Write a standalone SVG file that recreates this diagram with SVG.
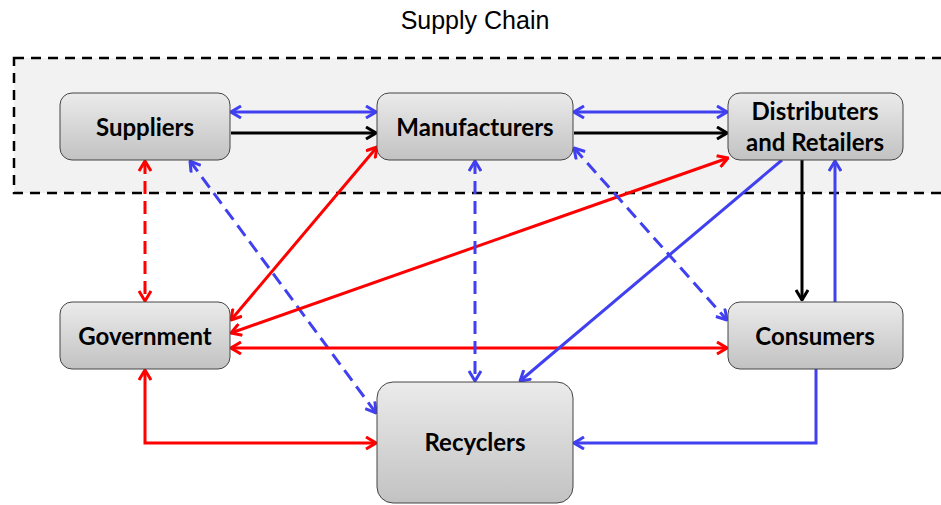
<svg xmlns="http://www.w3.org/2000/svg" width="941" height="505" viewBox="0 0 941 505">
<defs>
<linearGradient id="g" x1="0" y1="0" x2="0" y2="1">
<stop offset="0" stop-color="#ebebeb"/>
<stop offset="1" stop-color="#c2c2c2"/>
</linearGradient>
<marker id="mb" viewBox="0 0 12 14" refX="11" refY="7" markerWidth="12" markerHeight="14" markerUnits="userSpaceOnUse" orient="auto-start-reverse"><path d="M1,1 L11,7 L1,13" fill="none" stroke="#4040f0" stroke-width="3"/></marker>
<marker id="mr" viewBox="0 0 12 14" refX="11" refY="7" markerWidth="12" markerHeight="14" markerUnits="userSpaceOnUse" orient="auto-start-reverse"><path d="M1,1 L11,7 L1,13" fill="none" stroke="#ff0000" stroke-width="3"/></marker>
<marker id="mk" viewBox="0 0 12 14" refX="11" refY="7" markerWidth="12" markerHeight="14" markerUnits="userSpaceOnUse" orient="auto-start-reverse"><path d="M1,1 L11,7 L1,13" fill="none" stroke="#000" stroke-width="3"/></marker>
</defs>
<style>
.box{fill:url(#g);stroke:#444;stroke-width:1}
.lbl{font-family:Lato,"Open Sans","Liberation Sans",sans-serif;font-weight:bold;font-size:24px;fill:#000;text-anchor:middle}
.b{stroke:#4040f0;stroke-width:3;fill:none}
.r{stroke:#ff0000;stroke-width:3;fill:none}
.k{stroke:#000;stroke-width:3;fill:none}
.d{stroke-dasharray:13 7}
.bb{marker-start:url(#mb);marker-end:url(#mb)}
.be{marker-end:url(#mb)}
.rr{marker-start:url(#mr);marker-end:url(#mr)}
.ke{marker-end:url(#mk)}
</style>
<rect width="941" height="505" fill="#fff"/>
<text x="475" y="29" font-family="'Liberation Sans',Arial,sans-serif" font-size="25" text-anchor="middle" fill="#000">Supply Chain</text>
<rect x="14" y="58" width="940" height="135" fill="#f2f2f2" stroke="#000" stroke-width="2.5" stroke-dasharray="10 7"/>
<g id="connectors">
<line class="b bb" x1="231" y1="112" x2="376" y2="112"/>
<line class="k ke" x1="231" y1="133" x2="376" y2="133"/>
<line class="b bb" x1="574" y1="112" x2="727" y2="112"/>
<line class="k ke" x1="574" y1="133" x2="727" y2="133"/>
<line class="r d rr" x1="145" y1="161" x2="145" y2="301"/>
<line class="b d bb" x1="190" y1="161" x2="376" y2="413"/>
<line class="r rr" x1="377" y1="147" x2="231" y2="320"/>
<line class="r rr" x1="728" y1="158" x2="231" y2="333"/>
<line class="r rr" x1="231" y1="348" x2="727" y2="348"/>
<polyline class="r rr" points="145,370 145,443 376,443"/>
<line class="b d bb" x1="475" y1="161" x2="475" y2="381"/>
<line class="b d bb" x1="574" y1="148" x2="727" y2="320"/>
<line class="b be" x1="782" y1="160" x2="520" y2="381"/>
<line class="k ke" x1="802" y1="160" x2="802" y2="300"/>
<line class="b be" x1="835" y1="302" x2="835" y2="161"/>
<polyline class="b be" points="816,369 816,443 574,443"/>
</g>
<g id="suppliers"><rect class="box" x="60" y="93" width="170" height="67" rx="12"/><text class="lbl" x="145" y="135.5">Suppliers</text></g>
<g id="manufacturers"><rect class="box" x="377" y="93" width="196" height="67" rx="12"/><text class="lbl" x="475" y="135.5">Manufacturers</text></g>
<g id="distributers"><rect class="box" x="728" y="93" width="175" height="67" rx="12"/><text class="lbl" x="815" y="120">Distributers</text><text class="lbl" x="815" y="151">and Retailers</text></g>
<g id="government"><rect class="box" x="60" y="302" width="170" height="67" rx="12"/><text class="lbl" x="145" y="344.5">Government</text></g>
<g id="consumers"><rect class="box" x="728" y="302" width="175" height="67" rx="12"/><text class="lbl" x="815" y="344.5">Consumers</text></g>
<g id="recyclers"><rect class="box" x="377" y="382" width="196" height="121" rx="16"/><text class="lbl" x="475" y="451">Recyclers</text></g>
</svg>
